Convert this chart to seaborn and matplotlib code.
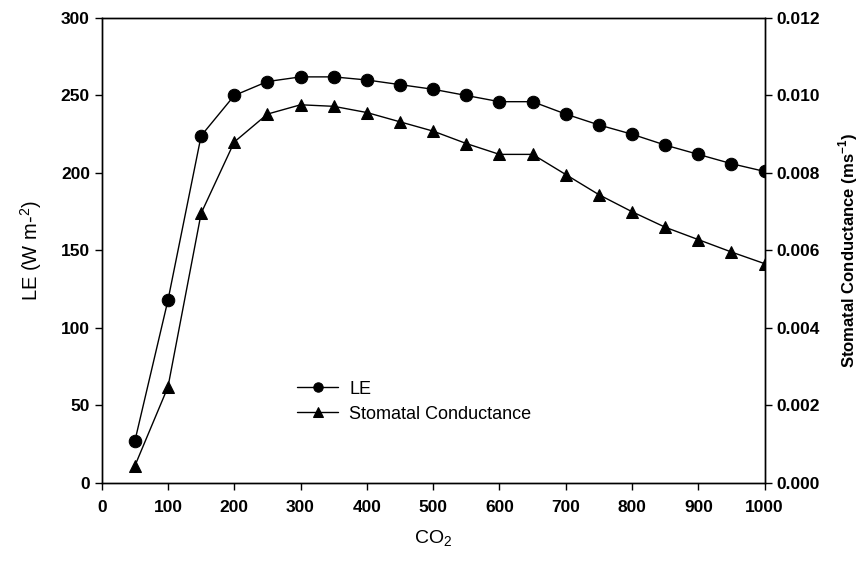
import numpy as np
import pandas as pd
import matplotlib
matplotlib.use('Agg')
import matplotlib.pyplot as plt
import seaborn as sns

co2 = [50, 100, 150, 200, 250, 300, 350, 400, 450, 500,
       550, 600, 650, 700, 750, 800, 850, 900, 950, 1000]
le = [27, 118, 224, 250, 259, 262, 262, 260, 257, 254,
      250, 246, 246, 238, 231, 225, 218, 212, 206, 201]
gs = [0.00044, 0.00248, 0.00696, 0.0088, 0.00952, 0.00976, 0.00972, 0.00956, 0.00932, 0.00908,
      0.00876, 0.00848, 0.00848, 0.00796, 0.00744, 0.0070, 0.0066, 0.00628, 0.00596, 0.00566]
gs_ticks = [0.000, 0.002, 0.004, 0.006, 0.008, 0.010, 0.012]

df = pd.DataFrame({'CO2': co2, 'LE': le, 'gs': gs})

sns.set_style('ticks')
plt.rcParams['font.family'] = ['Liberation Sans', 'DejaVu Sans']
plt.rcParams['mathtext.fontset'] = 'custom'
plt.rcParams['mathtext.rm'] = 'Liberation Sans'
plt.rcParams['mathtext.bf'] = 'Liberation Sans:bold'
plt.rcParams['text.color'] = 'black'
plt.rcParams['axes.labelcolor'] = 'black'

fig = plt.figure(figsize=(8.64, 5.62), dpi=100)
ax = fig.add_axes([0.1177, 0.1406, 0.7673, 0.8274])
ax2 = ax.twinx()

sns.lineplot(data=df, x='CO2', y='LE', ax=ax, color='black', lw=1,
             marker='o', markersize=9, markeredgecolor='black', label='LE', legend=False)
sns.lineplot(data=df, x='CO2', y='gs', ax=ax2, color='black', lw=1,
             marker='^', markersize=9, markeredgecolor='black', label='Stomatal Conductance', legend=False)

ax.set_xlim(0, 1000)
ax.set_ylim(0, 300)
ax2.set_ylim(0, 0.012)
ax.set_xticks(np.arange(0, 1001, 100))
ax.set_yticks(np.arange(0, 301, 50))
ax2.set_yticks(gs_ticks)
ax2.set_yticklabels(['%.3f' % v for v in gs_ticks])

for a in (ax, ax2):
    a.tick_params(direction='out', length=5, width=1, labelsize=12.5, colors='black')
    for lbl in a.get_xticklabels() + a.get_yticklabels():
        lbl.set_fontweight('bold')
    for s in a.spines.values():
        s.set_linewidth(1)
        s.set_color('black')
ax.tick_params(axis='x', pad=7)

ax.set_xlabel('CO$_2$', fontsize=14, labelpad=10)
ax.set_ylabel('LE (W m-$^{2}$)', fontsize=14.5, labelpad=12)
ax2.set_ylabel('Stomatal Conductance (ms$^{\\mathbf{-1}}$)', fontsize=12, fontweight='bold', labelpad=12)

h1, l1 = ax.get_legend_handles_labels()
h2, l2 = ax2.get_legend_handles_labels()
ax.legend(h1 + h2, l1 + l2, loc='center left', bbox_to_anchor=(0.27, 0.175),
          frameon=False, fontsize=13, handlelength=2.3, labelspacing=0.45,
          markerscale=0.75, handletextpad=0.6)

fig.savefig('out.png', dpi=100)
